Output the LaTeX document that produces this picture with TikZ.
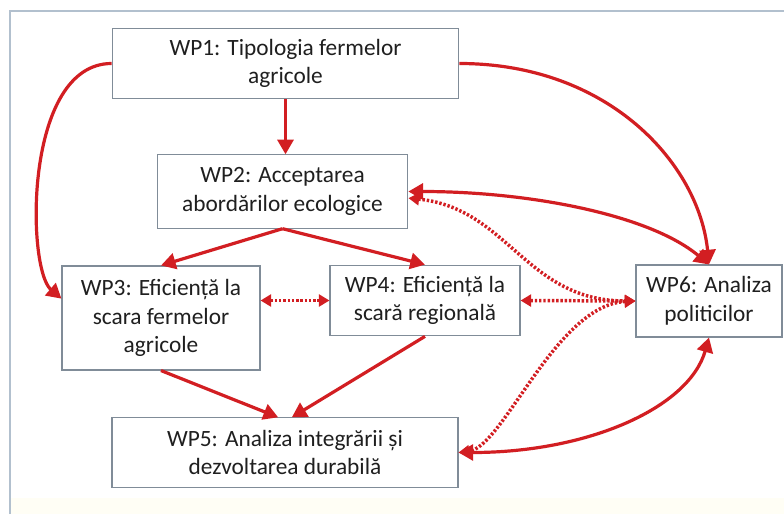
\documentclass[tikz,border=0pt]{standalone}
\usepackage{fontspec}
\setmainfont{Carlito}
\usetikzlibrary{arrows.meta}
\definecolor{rosu}{RGB}{210,30,34}
\definecolor{chenar}{RGB}{128,140,152}
\definecolor{cadru}{RGB}{178,192,206}
\definecolor{crem}{RGB}{255,254,245}

\begin{document}
\begin{tikzpicture}[x=0.75pt,y=-0.75pt,
    wp/.style={draw=chenar,line width=0.8pt,fill=white,align=center,inner sep=0pt,
      text=black!88,font=\fontsize{17.5}{21.5}\selectfont},
    sageata/.style={draw=rosu,line width=2.4pt,>={Triangle[length=11pt,width=12pt]}},
    punctat/.style={draw=rosu,line width=2.6pt,dash pattern=on 1.8pt off 1.4pt,
      >={Triangle[length=8pt,width=9pt]}}]

        \useasboundingbox (0,0) rectangle (784,514);

        % Cadrul
        \fill[crem] (10,498) rectangle (784,514);
        \draw[cadru,line width=1.2pt] (10,514) -- (10,11) -- (784,11);

        % Cutiile WP
        \node[wp,minimum width=260pt,minimum height=53pt] (wp1) at (285.5,63.5) {WP1: Tipologia fermelor\\agricole};
        \node[wp,minimum width=188pt,minimum height=55pt] (wp2) at (282.5,191.5) {WP2: Acceptarea\\abordărilor ecologice};
        \node[wp,minimum width=148.5pt,minimum height=78pt] (wp3) at (161,318) {WP3: Eficiență la\\scara fermelor\\agricole};
        \node[wp,minimum width=142.5pt,minimum height=53pt] (wp4) at (425,300.5) {WP4: Eficiență la\\scară regională};
        \node[wp,minimum width=109.5pt,minimum height=54pt] (wp6) at (709,301) {WP6: Analiza\\politicilor};
        \node[wp,minimum width=259.5pt,minimum height=52pt] (wp5) at (285,452.5) {WP5: Analiza integrării și\\dezvoltarea durabilă};

        % Sageti pline
        \draw[sageata,->] (wp1.south) -- (wp1.south |- wp2.north);
        \draw[sageata,->] (wp1.west) .. controls +(-88,0) and +(-35,-30) .. (wp3.169);
        \draw[sageata,->] (wp1.east) .. controls +(150,0) and +(-10,-100) .. (wp6.north);
        \draw[sageata,->] (wp2.south) -- (wp3.north);
        \draw[sageata,->] (wp2.south) -- (wp4.north);
        \draw[sageata,<->] (wp2.east) .. controls +(120,0) and +(-60,-50) .. (wp6.north);
        \draw[sageata,->] (wp3.south) -- (wp5.101);
        \draw[sageata,->] (wp4.south) -- (wp5.79);
        \draw[sageata,<->] (wp5.east) .. controls +(130,0) and +(-20,70) .. (wp6.south);

        % Sageti punctate
        \draw[punctat,<->] (wp3.east |- wp4.east) -- (wp4.west);
        \draw[punctat,<->] (wp4.east) -- (wp6.west);
        \draw[punctat,<->] (wp2.-3) .. controls +(100,10) and +(-110,0) .. (wp6.west);
        \draw[punctat,<->] (wp6.west) .. controls +(-80,4) and +(45,-5) .. (wp5.east);
    \end{tikzpicture}
\end{document}
